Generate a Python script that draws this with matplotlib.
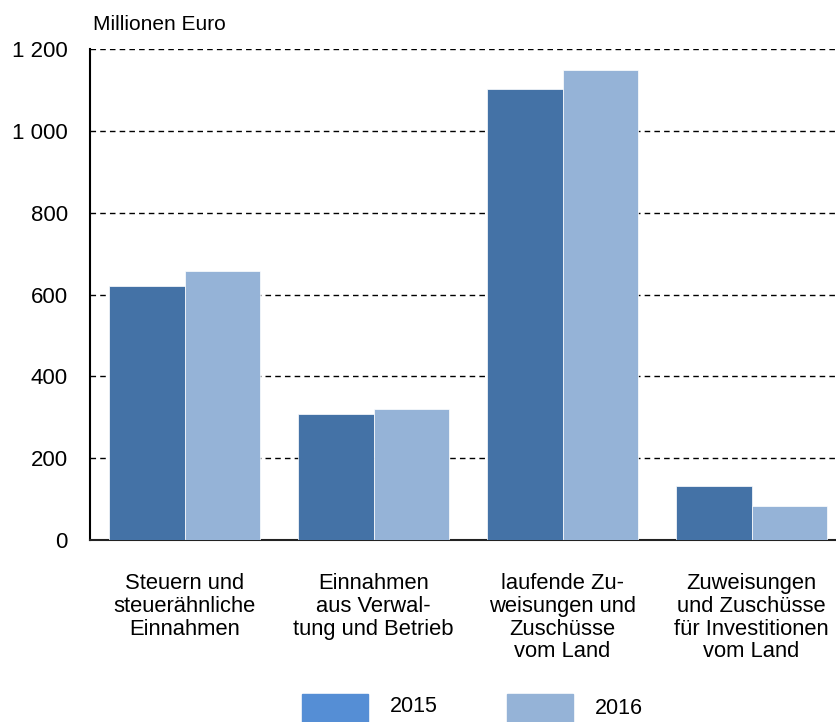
import numpy as np
import matplotlib
matplotlib.use('Agg')
import matplotlib.pyplot as plt
from matplotlib.patches import Rectangle
from matplotlib.ticker import FuncFormatter

plt.rcParams['font.family'] = ['Liberation Sans', 'DejaVu Sans']

categories = ['Steuern und\nsteuerähnliche\nEinnahmen',
              'Einnahmen\naus Verwal-\ntung und Betrieb',
              'laufende Zu-\nweisungen und\nZuschüsse\nvom Land',
              'Zuweisungen\nund Zuschüsse\nfür Investitionen\nvom Land']
years = ['2015', '2016']
values_2015 = [621, 308, 1103, 132]
values_2016 = [658, 320, 1149, 83]

bar_colors = ['#4472A6', '#95B3D7']
legend_colors = ['#558ED5', '#95B3D7']

fig = plt.figure(figsize=(8.37, 7.22), dpi=100)
ax = fig.add_axes([90 / 837, 182 / 722, 747 / 837, 491 / 722])

x = np.arange(len(categories))
w = 0.4
ax.bar(x - w / 2, values_2015, w, color=bar_colors[0], edgecolor='white', linewidth=0.5, zorder=3)
ax.bar(x + w / 2, values_2016, w, color=bar_colors[1], edgecolor='white', linewidth=0.5, zorder=3)

ax.set_xlim(-0.5, 3.452)
ax.set_ylim(0, 1200)
ax.set_yticks(np.arange(0, 1201, 200))
ax.yaxis.set_major_formatter(FuncFormatter(lambda v, _: '{:,.0f}'.format(v).replace(',', ' ')))
ax.grid(axis='y', color='black', linestyle=(0, (4, 3)), linewidth=1, zorder=1)
ax.set_axisbelow(True)

ax.set_xticks(x)
ax.set_xticklabels(categories, fontsize=15.8, linespacing=1.1)
ax.tick_params(axis='x', length=0, pad=24)
ax.tick_params(axis='y', length=0, pad=16, labelsize=16)

for s in ['top', 'right']:
    ax.spines[s].set_visible(False)
ax.spines['left'].set_color('black')
ax.spines['left'].set_linewidth(1.5)
ax.spines['bottom'].set_color('#222222')
ax.spines['bottom'].set_linewidth(1.5)

fig.text(93 / 837, 1 - 25 / 722, 'Millionen Euro', fontsize=15, va='center', ha='left')

# legend
leg_x = [302, 507]
for i, yr in enumerate(years):
    fig.patches.append(Rectangle((leg_x[i] / 837, 0), 66 / 837, 28 / 722,
                                 transform=fig.transFigure, color=legend_colors[i]))
    fig.text((leg_x[i] + 88) / 837, 1 - (706 + 3 * i) / 722, yr, fontsize=15.5,
             va='center', ha='left')

fig.savefig('out.png', dpi=100)
